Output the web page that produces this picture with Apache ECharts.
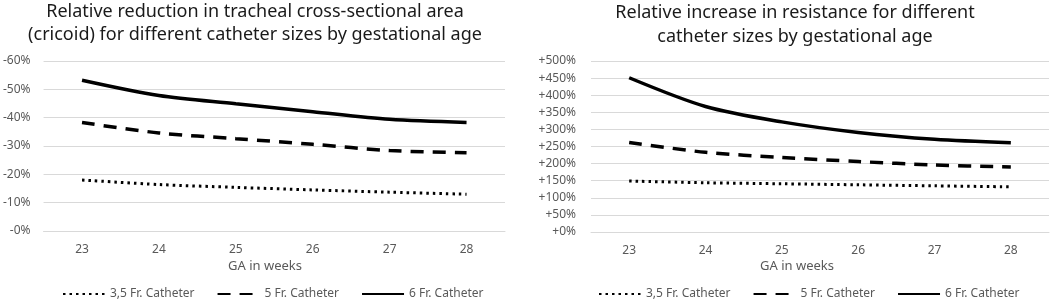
<!DOCTYPE html>
<html>
<head>
<meta charset="utf-8">
<script src="https://cdn.jsdelivr.net/npm/echarts@6/dist/echarts.min.js"></script>
<style>
  html, body { margin: 0; padding: 0; background: #fff; }
  #chart { width: 1056px; height: 299px; }
</style>
</head>
<body>
<div id="chart"></div>
<script>
// gestational age (weeks)
var weeks = ["23", "24", "25", "26", "27", "28"];
var seriesNames = ["3,5 Fr. Catheter", "5 Fr. Catheter", "6 Fr. Catheter"];

// relative reduction in cross-sectional area (%)
var areaFr35 = [18.0, 16.4, 15.4, 14.5, 13.7, 13.0];
var areaFr5 = [38.3, 34.6, 32.6, 30.6, 28.4, 27.6];
var areaFr6 = [53.2, 47.8, 44.9, 42.1, 39.4, 38.3];

// relative increase in resistance (%)
var resFr35 = [149, 144, 141, 138, 135, 132];
var resFr5 = [262, 233, 218, 206, 196, 190];
var resFr6 = [451, 367, 322, 291, 271, 261];

var fontFam = "Noto Sans";
var labelColor = "#595959";

var lineStyles = [
  { color: "#000", width: 3, type: [2.5, 4] },
  { color: "#000", width: 3.5, type: [13, 9] },
  { color: "#000", width: 3.5, type: "solid" }
];

function makeSeries(data, idx, axisIdx) {
  return {
    name: seriesNames[idx],
    type: "line",
    xAxisIndex: axisIdx,
    yAxisIndex: axisIdx,
    data: data,
    smooth: 0.3,
    symbol: "none",
    lineStyle: lineStyles[idx],
    itemStyle: { color: "#000" }
  };
}

var myChart = echarts.init(document.getElementById("chart"));

var titleFont = "18px Noto Sans";
var option = {
  animation: false,
  textStyle: { fontFamily: fontFam },
  graphic: [
    { type: "text", x: 255, y: 0, style: { text: "Relative reduction in tracheal cross-sectional area\n(cricoid) for different catheter sizes by gestational age", font: titleFont, fill: "#1a1a1a", textAlign: "center", lineHeight: 23 } },
    { type: "text", x: 795, y: 1, style: { text: "Relative increase in resistance for different\ncatheter sizes by gestational age", font: titleFont, fill: "#1a1a1a", textAlign: "center", lineHeight: 24 } },
    { type: "text", x: 265, y: 260, style: { text: "GA in weeks", font: "13px Noto Sans", fill: labelColor, textAlign: "center" } },
    { type: "text", x: 797, y: 260, style: { text: "GA in weeks", font: "13px Noto Sans", fill: labelColor, textAlign: "center" } }
  ],
  legend: [57, 593].map(function (x) {
    return {
      left: x, top: 283, itemWidth: 42, itemHeight: 14, itemGap: 22,
      data: seriesNames,
      itemStyle: { opacity: 0 },
      textStyle: { fontSize: 12, color: labelColor, fontFamily: fontFam }
    };
  }),
  grid: [
    { left: 41, top: 61, width: 464, height: 170 },
    { left: 591, top: 61, width: 458, height: 171 }
  ],
  xAxis: [0, 1].map(function (i) {
    return {
      type: "category",
      gridIndex: i,
      data: weeks,
      boundaryGap: true,
      axisLine: { lineStyle: { color: "#d9d9d9" } },
      axisTick: { show: false },
      axisLabel: { color: labelColor, fontSize: 12, margin: 13 }
    };
  }),
  yAxis: [
    {
      type: "value", gridIndex: 0, min: 0, max: 60, interval: 10,
      axisLabel: { formatter: "-{value}%", color: labelColor, fontSize: 12, margin: 13 },
      splitLine: { lineStyle: { color: "#d9d9d9" } }
    },
    {
      type: "value", gridIndex: 1, min: 0, max: 500, interval: 50,
      axisLabel: { formatter: "+{value}%", color: labelColor, fontSize: 12, margin: 15 },
      splitLine: { lineStyle: { color: "#d9d9d9" } }
    }
  ],
  series: [
    makeSeries(areaFr35, 0, 0),
    makeSeries(areaFr5, 1, 0),
    makeSeries(areaFr6, 2, 0),
    makeSeries(resFr35, 0, 1),
    makeSeries(resFr5, 1, 1),
    makeSeries(resFr6, 2, 1)
  ]
};
myChart.setOption(option);
</script>
</body>
</html>
